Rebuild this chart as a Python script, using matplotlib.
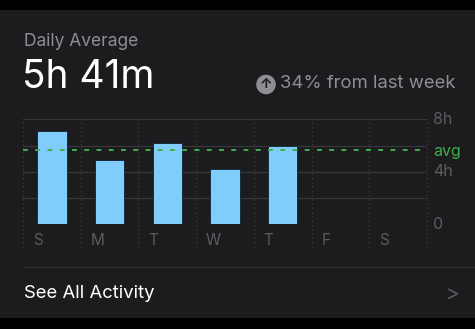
import matplotlib
matplotlib.use("Agg")
import matplotlib.pyplot as plt
from matplotlib.patches import Rectangle

days = ["S", "M", "T", "W", "T", "F", "S"]
hours = [7.1, 4.9, 6.2, 4.2, 6.0, None, None]
avg_hours = 5 + 41 / 60
y_ticks = [0, 4, 8]
y_tick_labels = ["0", "4h", "8h"]
grid_hours = [0, 2, 4, 6, 8]
title = "Daily Average"
headline = "5h 41m"
change_text = "34% from last week"
footer = "See All Activity"

W, H = 475, 329
BG = "#1c1c1e"
GRID = "#38383b"
DIM = "#5c5c60"
MUTED = "#8e8e93"
BAR = "#80cdfb"
GREEN = "#41ad4f"

plt.rcParams["font.family"] = ["Inter", "DejaVu Sans"]

fig = plt.figure(figsize=(W / 100, H / 100), dpi=100)
fig.patch.set_facecolor("black")


def fx(px):
    return px / W


def fy(py):
    return 1 - py / H


# card
fig.patches.append(Rectangle((0, fy(318)), 1, fy(10) - fy(318),
                             transform=fig.transFigure, facecolor=BG,
                             edgecolor="none", zorder=-5))

fig.text(fx(24), fy(41), title, color=MUTED, fontsize=12.5, va="center")
fig.text(fx(22), fy(77), headline, color="white", fontsize=28, va="center")
fig.text(fx(456), fy(84), change_text, color=MUTED, fontsize=13.3,
         va="center", ha="right")
fig.text(fx(266), fy(84.5), "\u2191", color=BG, fontsize=10, fontweight="bold",
         ha="center", va="center", zorder=3,
         bbox=dict(boxstyle="circle,pad=0.2", facecolor=MUTED, edgecolor="none"))

# separator and footer
fig.add_artist(plt.Line2D([fx(23), 1], [fy(267), fy(267)], color="#303033",
                          linewidth=1, transform=fig.transFigure))
fig.text(fx(24), fy(294), footer, color="white", fontsize=13.3, va="center")
fig.text(fx(452), fy(294), ">", color="#5a5a5e", fontsize=15, va="center",
         ha="center")

# chart
top_px, base_px = 119.3, 224.3
ax = fig.add_axes([fx(23), fy(base_px), fx(427) - fx(23), fy(top_px) - fy(base_px)])
ax.set_facecolor("none")
ax.set_xlim(-0.5, len(days) - 0.5)
ax.set_ylim(0, 8)
for s in ax.spines.values():
    s.set_visible(False)
ax.set_xticks([])
ax.set_yticks([])

px_per_hour = (base_px - top_px) / 8
label_bottom = -(247 - base_px) / px_per_hour

for g in grid_hours:
    ax.axhline(g, color=GRID, linewidth=0.9, zorder=1)
for i in range(len(days) + 1):
    ax.plot([i - 0.5, i - 0.5], [label_bottom, 8], color=GRID, linewidth=0.9,
            linestyle=(0, (1.2, 2.2)), clip_on=False, zorder=1)

xs = [i for i, v in enumerate(hours) if v is not None]
vals = [v for v in hours if v is not None]
ax.bar(xs, vals, width=0.51, color=BAR, edgecolor="#10202a", linewidth=0.6,
       zorder=2)

ax.axhline(avg_hours, color=GREEN, linewidth=1.4, linestyle=(0, (2.5, 3.8)),
           zorder=3)

for i, d in enumerate(days):
    ax.text(i - 0.5 + 0.17, -(241 - base_px) / px_per_hour, d, color=DIM,
            fontsize=11, va="center", ha="left", clip_on=False)

for t, lab in zip(y_ticks, y_tick_labels):
    ax.text(1 + 6 / (427 - 23), t, lab, color=DIM, fontsize=11.5,
            va="center", ha="left", transform=ax.get_yaxis_transform())
ax.text(1 + 6 / (427 - 23), avg_hours - 0.1, "avg", color=GREEN, fontsize=11.5,
        va="center", ha="left", transform=ax.get_yaxis_transform())

fig.savefig("out.png", dpi=100, facecolor=fig.get_facecolor())
